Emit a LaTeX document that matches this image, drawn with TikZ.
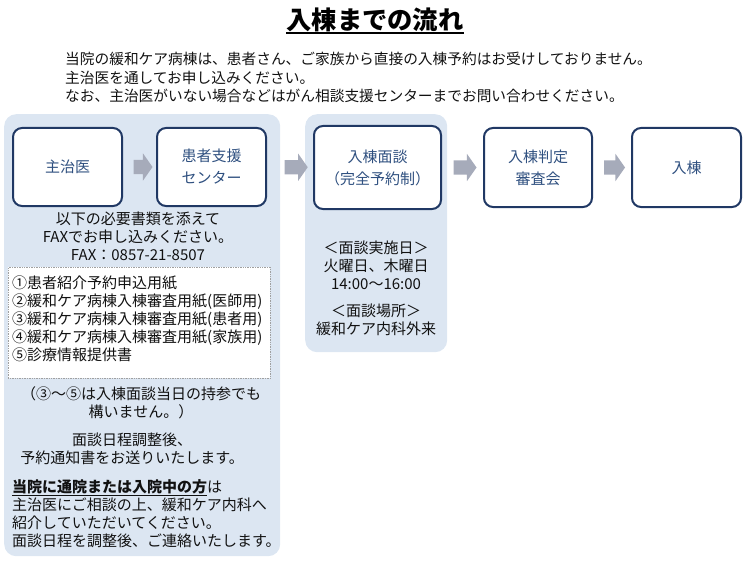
\documentclass[tikz,border=0pt]{standalone}
\usepackage{fontspec}
\setmainfont{Noto Sans CJK JP}
\usetikzlibrary{shapes.arrows,calc}
\definecolor{panelc}{HTML}{DCE6F2}
\definecolor{boxc}{HTML}{203864}
\definecolor{boxtext}{HTML}{2F5080}
\definecolor{arrc}{HTML}{A6ABBA}
\definecolor{listc}{HTML}{A0A0A0}
\definecolor{bodytext}{HTML}{111111}
\tikzset{
  panel/.style={fill=panelc, draw=none, rounded corners=12pt, anchor=north west, inner sep=0pt},
  stepbox/.style={draw=boxc, line width=2pt, rounded corners=9pt, fill=white, text=boxtext,
    align=center, inner sep=0pt, font=\fontsize{15pt}{22pt}\selectfont},
  blockarrow/.style={single arrow, fill=arrc, draw=none, inner xsep=0pt, inner ysep=7pt,
    single arrow head extend=6.5pt, single arrow tip angle=110, minimum height=20pt},
  txt/.style={text=bodytext, inner sep=0pt, font=\fontsize{15pt}{18pt}\selectfont},
  listbox/.style={draw=listc, densely dotted, line width=0.7pt, fill=white, anchor=north west, inner sep=0pt}
}
\begin{document}
\begin{tikzpicture}[x=1pt,y=-1pt]
\useasboundingbox (0,0) rectangle (750,567);
% title
\node[inner sep=0pt, font=\fontsize{25.3pt}{28pt}\selectfont\bfseries] (title) at (375,20) {入棟までの流れ};
\draw[line width=1.6pt] ([yshift=-3.5pt]title.base west) -- ([yshift=-3.5pt]title.base east);
% intro
\node[txt, align=left, anchor=west, font=\fontsize{14.7pt}{18pt}\selectfont] (intro) at (65,77.5) {当院の緩和ケア病棟は、患者さん、ご家族から直接の入棟予約はお受けしておりません。\\[0.5pt]主治医を通してお申し込みください。\\[0.5pt]なお、主治医がいない場合などはがん相談支援センターまでお問い合わせください。};
% panels
\node[panel, minimum width=276pt, minimum height=442pt] (lpanel) at (4,114) {};
\node[panel, minimum width=142pt, minimum height=238pt] (mpanel) at (305,114) {};
% step boxes
\node[stepbox, minimum width=109pt, minimum height=78pt] (b1) at (67.5,167) {主治医};
\node[stepbox, minimum width=109pt, minimum height=78pt] (b2) at (211.5,167) {患者支援\\センター};
\node[stepbox, minimum width=127pt, minimum height=83pt] (b3) at (377.5,167.5) {入棟面談\\（完全予約制）};
\node[stepbox, minimum width=108pt, minimum height=79pt] (b4) at (538,167.5) {入棟判定\\審査会};
\node[stepbox, minimum width=109pt, minimum height=79pt] (b5) at (686.5,167.5) {入棟};
% arrows
\node[blockarrow, minimum height=19pt] (a1) at ($(b1.east)!0.5!(b2.west)+(1,0)$) {};
\node[blockarrow, minimum height=23pt] (a2) at ($(lpanel.east |- b2.east)!0.5!(mpanel.west |- b3.west)+(1,0)$) {};
\node[blockarrow, minimum height=23pt] (a3) at ($(b3.east)!0.5!(b4.west)$) {};
\node[blockarrow, minimum height=21pt] (a4) at ($(b4.east)!0.5!(b5.west)$) {};
% left panel texts
\node[txt, align=center] (fax) at (138,236.5) {以下の必要書類を添えて\\FAXでお申し込みください。\\FAX：0857-21-8507};
\node[listbox, minimum width=262pt, minimum height=111pt] (list) at (8,267) {};
\node[txt, align=left, anchor=north west] (items) at (12,276) {①患者紹介予約申込用紙\\②緩和ケア病棟入棟審査用紙(医師用)\\③緩和ケア病棟入棟審査用紙(患者用)\\④緩和ケア病棟入棟審査用紙(家族用)\\⑤診療情報提供書};
\node[txt, align=center] (note) at (141,403) {（③～⑤は入棟面談当日の持参でも\\構いません。）};
\node[txt, align=center] (sched) at (132,449) {面談日程調整後、\\予約通知書をお送りいたします。};
\node[txt, align=left, anchor=north west] (inpat) at (12,479) {\underline{\textbf{当院に通院または入院中の方}}は\\主治医にご相談の上、緩和ケア内科へ\\紹介していただいてください。\\面談日程を調整後、ご連絡いたします。};
% middle panel texts
\node[txt, align=center] (days) at (376,265) {＜面談実施日＞\\火曜日、木曜日\\14:00～16:00};
\node[txt, align=center] (place) at (376,319.5) {＜面談場所＞\\緩和ケア内科外来};
\end{tikzpicture}
\end{document}
